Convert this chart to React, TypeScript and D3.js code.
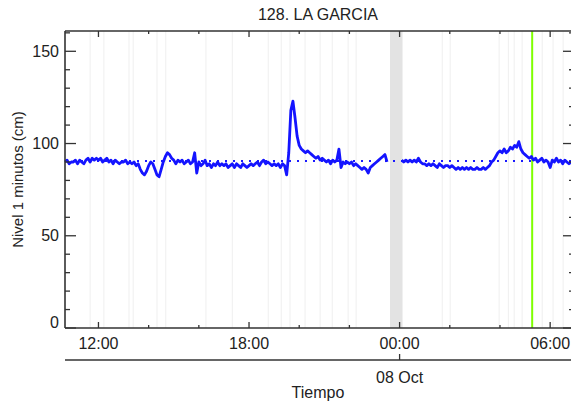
import * as d3 from "d3";

// nivel cada 5 minutos desde 07 Oct 10:40 (null = sin dato)
const startTime = new Date(2024, 9, 7, 10, 40);
const levels: (number | null)[] = [
  90, 91, 89, 90, // 10:40
  90, 91, 89, 91, 90, 89, 91, 92, 90, 92, 91, 92, // 11:00
  91, 92, 90, 91, 92, 90, 91, 89, 91, 90, 89, 90, // 12:00
  90, 91, 89, 90, 89, 90, 88, 89, 86, 84, 83, 85, // 13:00
  88, 90, 89, 86, 83, 82, 86, 90, 93, 95, 94, 92, // 14:00
  91, 89, 91, 90, 91, 89, 90, 91, 89, 90, 95, 84, // 15:00
  90, 88, 89, 91, 88, 89, 87, 89, 88, 90, 88, 89, // 16:00
  88, 89, 87, 88, 89, 87, 89, 88, 87, 89, 88, 87, // 17:00
  88, 89, 88, 89, 90, 88, 90, 91, 89, 90, 89, 88, // 18:00
  89, 88, 89, 87, 89, 88, 83, 95, 118, 123, 114, 104, // 19:00
  99, 97, 96, 95, 96, 95, 94, 93, 92, 93, 91, 92, // 20:00
  91, 90, 91, 89, 91, 90, 91, 97, 87, 90, 89, 90, // 21:00
  89, 90, 88, 89, 88, 87, 86, 87, 86, 84, 87, 88, // 22:00
  89, 90, 91, 92, 93, 94, 90, null, null, null, null, null, // 23:00
  null, 91, 90, 91, 90, 91, 90, 91, 90, 92, 90, 89, // 00:00
  89, 88, 89, 88, 89, 88, 87, 89, 88, 87, 88, 88, // 01:00
  87, 88, 87, 86, 87, 86, 87, 86, 87, 86, 87, 86, // 02:00
  86, 87, 86, 86, 87, 86, 87, 88, 90, 91, 93, 95, // 03:00
  96, 95, 97, 95, 96, 98, 97, 99, 98, 101, 97, 95, // 04:00
  94, 93, 92, 93, 91, 92, 90, 91, 92, 90, 91, 90, // 05:00
  87, 91, 90, 92, 90, 91, 89, 91, 90, 89, 90, // 06:00
];

// nivel de referencia (punteado)
const refLevel = 90.5;

// lineas grises de huecos, horas "dia hh:mm"
const gapLines = [
  "7 11:40", "7 12:13", "7 13:13", "7 13:23", "7 14:20", "7 14:41", "7 16:17",
  "7 17:20", "7 18:46", "7 19:17", "7 19:38", "7 20:14", "7 20:50", "7 21:19",
  "7 21:57", "7 22:16", "8 01:42", "8 02:01", "8 03:58", "8 04:20", "8 04:34",
  "8 04:53", "8 05:41", "8 06:07", "8 06:31",
];
const gapBand = ["7 23:37", "8 00:07"];
const greenMark = "8 05:17";

const yMajor = [0, 50, 100, 150];
const yMinor = d3.range(0, 161, 10);

const parse = (s: string) => {
  const [d, hm] = s.split(" ");
  const [h, m] = hm.split(":").map(Number);
  return new Date(2024, 9, +d, h, m);
};

const W = 571;
const H = 402;
const left = 65;
const right = 574;
const top = 31;
const bottom = 328;

const x = d3
  .scaleTime()
  .domain([startTime, new Date(2024, 9, 8, 6, 57)])
  .range([left, right]);
const y = d3.scaleLinear().domain([0, 161]).range([bottom, top]);

const font = "'Liberation Sans', Arial, Helvetica, sans-serif";
const axisColor = "#333";

export default function App() {
  const points = levels.map((v, i) => ({
    t: new Date(startTime.getTime() + i * 5 * 60000),
    v,
  }));
  const line = d3
    .line<{ t: Date; v: number | null }>()
    .defined((d) => d.v !== null)
    .x((d) => x(d.t))
    .y((d) => y(d.v as number));

  const hourTicks = x.ticks(d3.timeHour.every(2) as d3.TimeInterval);
  const isMajor = (d: Date) => d.getHours() % 6 === 0;

  return (
    <svg
      width={W}
      height={H}
      style={{ position: "absolute", left: 0, top: 0, background: "#fff" }}
    >
      <rect width={W} height={H} fill="#fff" />
      {/* huecos */}
      {gapLines.map((s) => (
        <line
          key={s}
          x1={x(parse(s))}
          x2={x(parse(s))}
          y1={top}
          y2={bottom}
          stroke="#efefef"
          strokeWidth={1}
        />
      ))}
      <rect
        x={x(parse(gapBand[0]))}
        width={x(parse(gapBand[1])) - x(parse(gapBand[0]))}
        y={top}
        height={bottom - top}
        fill="#e3e3e3"
      />
      <line
        x1={x(parse(greenMark))}
        x2={x(parse(greenMark))}
        y1={top}
        y2={bottom}
        stroke="#7fff00"
        strokeWidth={2}
      />
      {/* referencia */}
      <line
        x1={left}
        x2={right}
        y1={y(refLevel)}
        y2={y(refLevel)}
        stroke="#1a1aff"
        strokeWidth={2}
        strokeDasharray="2,6"
      />
      {/* nivel */}
      <path
        d={line(points) || ""}
        fill="none"
        stroke="#1414ff"
        strokeWidth={2.8}
        strokeLinejoin="round"
      />

      {/* marco */}
      <g stroke={axisColor} strokeWidth={1.6} fill="none">
        <line x1={left} x2={right} y1={top} y2={top} />
        <line x1={left} x2={right} y1={bottom} y2={bottom} />
        <line x1={left} x2={left} y1={top} y2={bottom} />
        <line x1={right} x2={right} y1={top} y2={bottom} />
        <line x1={left} x2={right} y1={360} y2={360} />
      </g>
      {/* ticks y */}
      <g stroke={axisColor} strokeWidth={1.3}>
        {yMinor.map((v) => {
          const len = yMajor.includes(v) ? 11 : 5;
          return (
            <g key={v}>
              <line x1={left} x2={left + len} y1={y(v)} y2={y(v)} />
              <line x1={right} x2={right - len} y1={y(v)} y2={y(v)} />
            </g>
          );
        })}
      </g>
      {/* ticks x */}
      <g stroke={axisColor} strokeWidth={1.3}>
        {hourTicks.map((d) => {
          const len = isMajor(d) ? 6 : 3;
          return (
            <g key={+d}>
              <line x1={x(d)} x2={x(d)} y1={bottom} y2={bottom - len} />
              <line x1={x(d)} x2={x(d)} y1={top} y2={top + len} />
            </g>
          );
        })}
        <line
          x1={x(new Date(2024, 9, 8, 0, 0))}
          x2={x(new Date(2024, 9, 8, 0, 0))}
          y1={360}
          y2={354}
        />
      </g>

      <g fontFamily={font} fill="#222">
        <text x={318} y={20} fontSize={16} textAnchor="middle">
          128. LA GARCIA
        </text>
        {yMajor.map((v) => (
          <text
            key={v}
            x={59}
            y={v === 0 ? bottom : y(v) + 5.5}
            fontSize={16}
            textAnchor="end"
          >
            {v}
          </text>
        ))}
        {hourTicks.filter(isMajor).map((d) => (
          <text key={+d} x={x(d)} y={349} fontSize={16} textAnchor="middle">
            {d3.timeFormat("%H:%M")(d)}
          </text>
        ))}
        <text
          x={x(new Date(2024, 9, 8, 0, 0))}
          y={383}
          fontSize={16}
          textAnchor="middle"
        >
          {d3.timeFormat("%d %b")(new Date(2024, 9, 8))}
        </text>
        <text x={318} y={398} fontSize={16} textAnchor="middle">
          Tiempo
        </text>
        <text
          transform={`translate(23, ${(top + bottom) / 2}) rotate(-90)`}
          fontSize={15}
          textAnchor="middle"
        >
          Nivel 1 minutos (cm)
        </text>
      </g>
    </svg>
  );
}
